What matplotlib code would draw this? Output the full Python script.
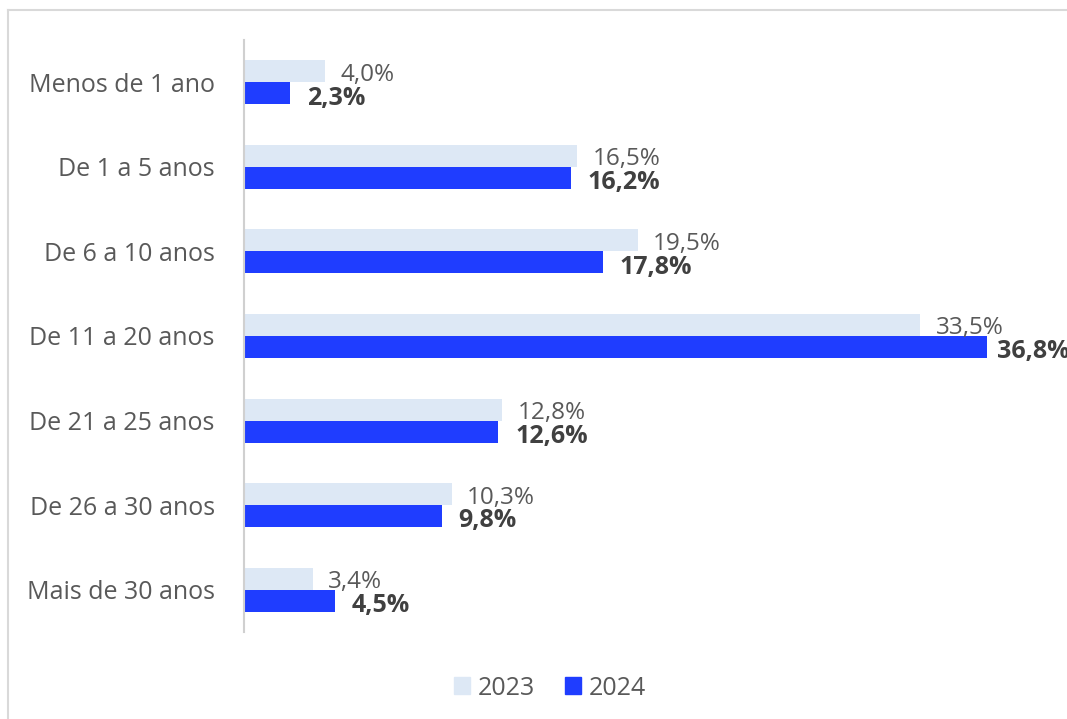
import matplotlib
matplotlib.use("Agg")
import matplotlib.pyplot as plt
import numpy as np
from matplotlib.lines import Line2D
from matplotlib.patches import Patch

# Tempo de servico por faixa, participacao em %
categorias = ["Menos de 1 ano", "De 1 a 5 anos", "De 6 a 10 anos", "De 11 a 20 anos",
              "De 21 a 25 anos", "De 26 a 30 anos", "Mais de 30 anos"]
valores_2023 = [4.0, 16.5, 19.5, 33.5, 12.8, 10.3, 3.4]
valores_2024 = [2.3, 16.2, 17.8, 36.8, 12.6, 9.8, 4.5]

COR_2023 = "#dde8f5"
COR_2024 = "#1f3dff"
COR_TEXTO = "#595959"
COR_VALOR = "#404040"

plt.rcParams["font.family"] = ["Open Sans", "DejaVu Sans"]

fig = plt.figure(figsize=(10.67, 7.19), dpi=100)
ax = fig.add_axes([0.2287, 0.121, 0.7713, 0.8234])

y = np.arange(len(categorias))
h = 0.26
ax.barh(y - h / 2, valores_2023, height=h, color=COR_2023)
ax.barh(y + h / 2, valores_2024, height=h, color=COR_2024)

def fmt(v):
    return f"{v:.1f}%".replace(".", ",")

xmax = 40.77
for i, (a, b) in enumerate(zip(valores_2023, valores_2024)):
    ax.annotate(fmt(a), (a, i - h / 2), xytext=(11, -2.5), textcoords="offset points",
                va="center", ha="left", fontsize=17.5, color=COR_TEXTO)
    # rotulo perto da borda fica mais colado na barra
    dx = 7 if b > xmax - 5 else 12
    ax.annotate(fmt(b), (b, i + h / 2), xytext=(dx, -3.5), textcoords="offset points",
                va="center", ha="left", fontsize=18, color=COR_VALOR, fontweight="bold",
                annotation_clip=False)

ax.set_xlim(0, xmax)
ax.set_ylim(len(categorias) - 0.5, -0.5)
ax.set_yticks(y)
ax.set_yticklabels(categorias, fontsize=18, color=COR_TEXTO)
ax.tick_params(axis="y", length=0, pad=21)
ax.set_xticks([])
for s in ["top", "right", "bottom"]:
    ax.spines[s].set_visible(False)
ax.spines["left"].set_color("#d0d0d0")
ax.spines["left"].set_linewidth(1.5)

handles = [Patch(color=COR_2023, label="2023"), Patch(color=COR_2024, label="2024")]
fig.legend(handles=handles, loc="center", bbox_to_anchor=(0.515, 0.043), ncol=2,
           frameon=False, fontsize=18, handlelength=0.65, handleheight=0.65,
           handletextpad=0.3, columnspacing=1.2, labelcolor=COR_TEXTO)

# moldura do grafico (borda superior e esquerda)
fig.add_artist(Line2D([8 / 1067, 1.0], [1 - 10 / 719] * 2, transform=fig.transFigure,
                      color="#d9d9d9", lw=1.5))
fig.add_artist(Line2D([8 / 1067] * 2, [0.0, 1 - 10 / 719], transform=fig.transFigure,
                      color="#d9d9d9", lw=1.5))

fig.savefig("out.png", dpi=100)
